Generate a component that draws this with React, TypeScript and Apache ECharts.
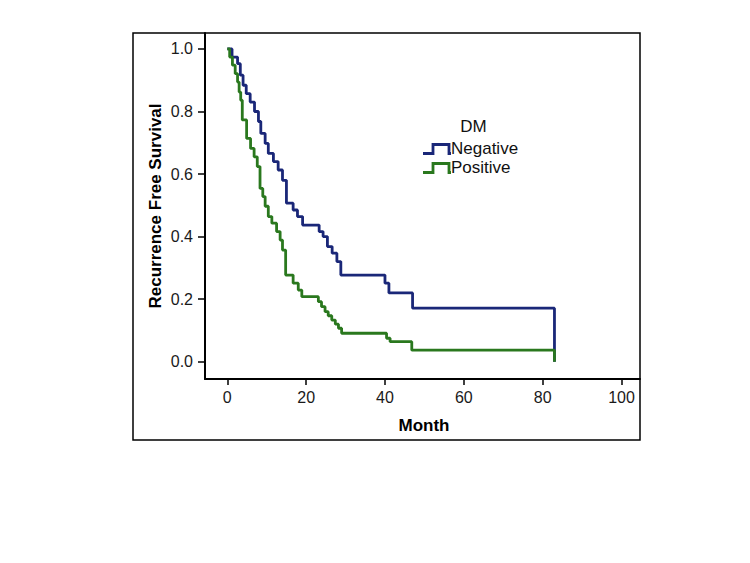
import React, { useEffect, useRef } from "react";
import * as echarts from "echarts";

const negTime = [0, 1.2, 2.6, 3.3, 4.0, 4.8, 5.8, 6.9, 7.9, 8.5, 9.6, 10.4, 11.7, 12.9, 14.0, 15.0, 16.7, 17.8, 19.1, 23.3, 24.3, 25.4, 26.6, 27.8, 28.8, 40.0, 41.0, 47.0, 83.0];
const negSurv = [1.0, 0.974, 0.953, 0.916, 0.884, 0.857, 0.83, 0.8, 0.768, 0.73, 0.698, 0.666, 0.64, 0.613, 0.58, 0.507, 0.485, 0.464, 0.437, 0.416, 0.4, 0.368, 0.347, 0.32, 0.277, 0.251, 0.22, 0.171, 0.0];

const posTime = [0, 0.6, 1.3, 2.0, 2.6, 3.0, 3.4, 3.8, 4.9, 5.9, 6.8, 7.6, 8.3, 9.0, 9.6, 10.4, 11.3, 12.5, 13.4, 14.0, 14.8, 16.7, 18.0, 18.9, 23.1, 23.9, 24.8, 25.6, 26.5, 27.4, 28.2, 29.0, 40.4, 41.3, 46.8, 83.0];
const posSurv = [1.0, 0.974, 0.948, 0.921, 0.894, 0.862, 0.836, 0.773, 0.714, 0.682, 0.655, 0.624, 0.554, 0.528, 0.497, 0.464, 0.443, 0.416, 0.389, 0.357, 0.277, 0.251, 0.229, 0.208, 0.192, 0.176, 0.16, 0.147, 0.133, 0.12, 0.107, 0.091, 0.075, 0.064, 0.037, 0.0];

const xTicks = [0, 20, 40, 60, 80, 100];
const yTicks = [0, 0.2, 0.4, 0.6, 0.8, 1.0];
const legendTitle = "DM";
const groupNames = ["Negative", "Positive"];
const xTitle = "Month";
const yTitle = "Recurrence Free Survival";

const NEG_COLOR = "#1a2778";
const POS_COLOR = "#2a781e";
const FONT = "'Liberation Sans', Arial, sans-serif";

export default function App() {
  const ref = useRef<HTMLDivElement>(null);
  useEffect(() => {
    const chart = echarts.init(ref.current!, null, { renderer: "svg" });
    const legendIcon = (y0: number, color: string) => ({
      type: "polyline",
      shape: {
        points: [
          [423, y0 + 9],
          [433, y0 + 9],
          [433, y0],
          [449, y0],
          [449, y0 + 9],
          [451, y0 + 9],
        ],
      },
      style: { stroke: color, lineWidth: 2.8, fill: null },
    });
    chart.setOption({
      animation: false,
      backgroundColor: "#ffffff",
      grid: { left: 205, top: 33, width: 435, height: 346, containLabel: false },
      xAxis: {
        type: "value",
        min: -5.66,
        max: 104.7,
        axisLine: { show: true, onZero: false, lineStyle: { color: "#000", width: 2 } },
        axisTick: { show: true, customValues: xTicks, length: 6, lineStyle: { color: "#000", width: 1.5 } },
        axisLabel: { customValues: xTicks, margin: 10, fontSize: 16, color: "#1a1a1a", fontFamily: FONT },
        splitLine: { show: false },
      },
      yAxis: {
        type: "value",
        min: -0.0553,
        max: 1.051,
        axisLine: { show: true, onZero: false, lineStyle: { color: "#000", width: 2 } },
        axisTick: { show: true, customValues: yTicks, length: 7, lineStyle: { color: "#000", width: 1.5 } },
        axisLabel: {
          customValues: yTicks,
          margin: 12,
          fontSize: 16,
          color: "#1a1a1a",
          fontFamily: FONT,
          formatter: (v: number) => v.toFixed(1),
        },
        splitLine: { show: false },
      },
      series: [
        {
          name: groupNames[0],
          type: "line",
          step: "end",
          showSymbol: false,
          data: negTime.map((t, i) => [t, negSurv[i]]),
          lineStyle: { color: NEG_COLOR, width: 2.8 },
          itemStyle: { color: NEG_COLOR },
          z: 2,
        },
        {
          name: groupNames[1],
          type: "line",
          step: "end",
          showSymbol: false,
          data: posTime.map((t, i) => [t, posSurv[i]]),
          lineStyle: { color: POS_COLOR, width: 2.8 },
          itemStyle: { color: POS_COLOR },
          z: 3,
        },
      ],
      graphic: [
        {
          type: "rect",
          shape: { x: 133, y: 33, width: 507, height: 407 },
          style: { fill: null, stroke: "#000", lineWidth: 1.5 },
          z: 10,
        },
        {
          type: "text",
          x: 155,
          y: 206,
          rotation: Math.PI / 2,
          style: {
            text: yTitle,
            font: `bold 17px ${FONT}`,
            fill: "#000",
            textAlign: "center",
            textVerticalAlign: "middle",
          },
        },
        {
          type: "text",
          x: 424,
          y: 425,
          style: {
            text: xTitle,
            font: `bold 17px ${FONT}`,
            fill: "#000",
            textAlign: "center",
            textVerticalAlign: "middle",
          },
        },
        {
          type: "text",
          x: 473.5,
          y: 126,
          style: {
            text: legendTitle,
            font: `17px ${FONT}`,
            fill: "#111",
            textAlign: "center",
            textVerticalAlign: "middle",
          },
        },
        legendIcon(144.5, NEG_COLOR),
        legendIcon(163.5, POS_COLOR),
        {
          type: "text",
          x: 451,
          y: 148.5,
          style: {
            text: groupNames[0],
            font: `17px ${FONT}`,
            fill: "#111",
            textAlign: "left",
            textVerticalAlign: "middle",
          },
        },
        {
          type: "text",
          x: 451,
          y: 167.5,
          style: {
            text: groupNames[1],
            font: `17px ${FONT}`,
            fill: "#111",
            textAlign: "left",
            textVerticalAlign: "middle",
          },
        },
      ],
    });
    return () => chart.dispose();
  }, []);
  return (
    <div
      ref={ref}
      style={{ position: "absolute", left: 0, top: 0, width: 750, height: 563 }}
    />
  );
}
